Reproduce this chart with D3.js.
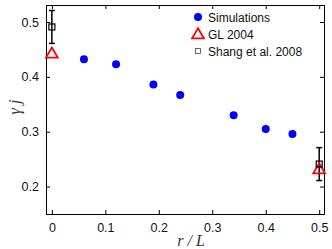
<!DOCTYPE html>
<html>
<head>
<meta charset="utf-8">
<script src="https://cdn.jsdelivr.net/npm/d3@7"></script>
<style>
  body { margin: 0; background: #fff; }
</style>
</head>
<body>
<div id="chart"></div>
<script>
// data
const simX = [0.06, 0.12, 0.19, 0.24, 0.34, 0.40, 0.45];
const simY = [0.432, 0.423, 0.386, 0.367, 0.330, 0.305, 0.296];
const simErr = [0.006, 0.006, 0.004, 0.006, 0.004, 0.006, 0.004];
const glX = [0, 0.5];
const glY = [0.443, 0.232];
const shangX = [0, 0.5];
const shangY = [0.491, 0.241];
const shangErr = [0.030, 0.030];
const xTicks = [0, 0.1, 0.2, 0.3, 0.4, 0.5];
const yTicks = [0.2, 0.3, 0.4, 0.5];
const legendLabels = ["Simulations", "GL 2004", "Shang et al. 2008"];

const W = 332, H = 249;
const margin = { top: 5, right: 8, bottom: 35, left: 46 };
const w = W - margin.left - margin.right;
const h = H - margin.top - margin.bottom;
const sans = "Liberation Sans, Arial, sans-serif";
const serif = "Liberation Serif, Times New Roman, serif";

const svg = d3.select("#chart").append("svg")
  .attr("width", W)
  .attr("height", H);

const g = svg.append("g")
  .attr("transform", `translate(${margin.left},${margin.top})`);

const x = d3.scaleLinear().domain([-0.011, 0.509]).range([0, w]);
const y = d3.scaleLinear().domain([0.15, 0.531]).range([h, 0]);

// axes, MATLAB style: ticks inward on all four sides
const fmt = d3.format("~g");
const xAxis = g.append("g").attr("transform", `translate(0,${h})`)
  .call(d3.axisBottom(x).tickValues(xTicks).tickSize(-4).tickPadding(9).tickFormat(fmt));
const xTop = g.append("g")
  .call(d3.axisTop(x).tickValues(xTicks).tickSize(-4).tickFormat(""));
const yAxis = g.append("g")
  .call(d3.axisLeft(y).tickValues(yTicks).tickSize(-4).tickPadding(7).tickFormat(fmt));
const yRight = g.append("g").attr("transform", `translate(${w},0)`)
  .call(d3.axisRight(y).tickValues(yTicks).tickSize(-4).tickFormat(""));

[xAxis, xTop, yAxis, yRight].forEach(a => {
  a.select(".domain").attr("stroke", "#000").attr("stroke-width", 1);
  a.selectAll(".tick line").attr("stroke", "#000");
  a.selectAll("text").style("font-size", "12.5px").attr("fill", "#111")
    .style("font-family", sans);
});

// simulations with error bars
const sim = simX.map((d, i) => ({ x: d, y: simY[i], e: simErr[i] }));
g.selectAll(".simerr").data(sim).enter().append("line")
  .attr("x1", d => x(d.x)).attr("x2", d => x(d.x))
  .attr("y1", d => y(d.y - d.e)).attr("y2", d => y(d.y + d.e))
  .attr("stroke", "#0000ff").attr("stroke-width", 1.5);
g.selectAll(".sim").data(sim).enter().append("circle")
  .attr("cx", d => x(d.x)).attr("cy", d => y(d.y))
  .attr("r", 4).attr("fill", "#0000ff");

// Shang et al. with error bars
const shang = shangX.map((d, i) => ({ x: d, y: shangY[i], e: shangErr[i] }));
const cap = 3;
shang.forEach(d => {
  const cx = x(d.x), top = y(d.y + d.e), bot = y(d.y - d.e);
  g.append("line").attr("x1", cx).attr("x2", cx).attr("y1", top).attr("y2", bot)
    .attr("stroke", "#000").attr("stroke-width", 1.5);
  g.append("line").attr("x1", cx - cap).attr("x2", cx + cap).attr("y1", top).attr("y2", top)
    .attr("stroke", "#000").attr("stroke-width", 1.5);
  g.append("line").attr("x1", cx - cap).attr("x2", cx + cap).attr("y1", bot).attr("y2", bot)
    .attr("stroke", "#000").attr("stroke-width", 1.5);
});

// GL 2004 triangles
const tri = d3.symbol().type(d3.symbolTriangle).size(60);
const gl = glX.map((d, i) => ({ x: d, y: glY[i] }));
g.selectAll(".gl").data(gl).enter().append("path")
  .attr("d", tri)
  .attr("transform", d => `translate(${x(d.x)},${y(d.y) + 1})`)
  .attr("fill", "none").attr("stroke", "#ff0000").attr("stroke-width", 1.8);

// squares on top
g.selectAll(".sq").data(shang).enter().append("rect")
  .attr("x", d => x(d.x) - 3).attr("y", d => y(d.y) - 3)
  .attr("width", 6).attr("height", 6)
  .attr("fill", "none").attr("stroke", "#000").attr("stroke-width", 1.2);

// legend
const leg = svg.append("g").attr("transform", "translate(198,17)");
const rowH = 17;
leg.append("circle").attr("cx", 0).attr("cy", 0).attr("r", 4).attr("fill", "#0000ff");
leg.append("path").attr("d", tri).attr("transform", `translate(0,${rowH + 1})`)
  .attr("fill", "none").attr("stroke", "#ff0000").attr("stroke-width", 1.8);
leg.append("rect").attr("x", -2.5).attr("y", 2 * rowH - 2.5).attr("width", 5).attr("height", 5)
  .attr("fill", "none").attr("stroke", "#444").attr("stroke-width", 0.8);
leg.selectAll(".lt").data(legendLabels).enter().append("text")
  .attr("x", 10).attr("y", (d, i) => i * rowH + 4.5)
  .style("font-size", "12px").style("font-family", sans).attr("fill", "#111")
  .text(d => d);

// axis labels
svg.append("text")
  .attr("transform", `translate(20,107) rotate(-90)`)
  .attr("text-anchor", "middle")
  .style("font-family", serif).style("font-style", "italic")
  .style("font-size", "16px").attr("fill", "#333")
  .text("γ  j");
svg.append("text")
  .attr("x", 191).attr("y", 246)
  .attr("text-anchor", "middle")
  .style("font-family", serif).style("font-style", "italic")
  .style("font-size", "16px").attr("fill", "#333")
  .text("r / L");
</script>
</body>
</html>
